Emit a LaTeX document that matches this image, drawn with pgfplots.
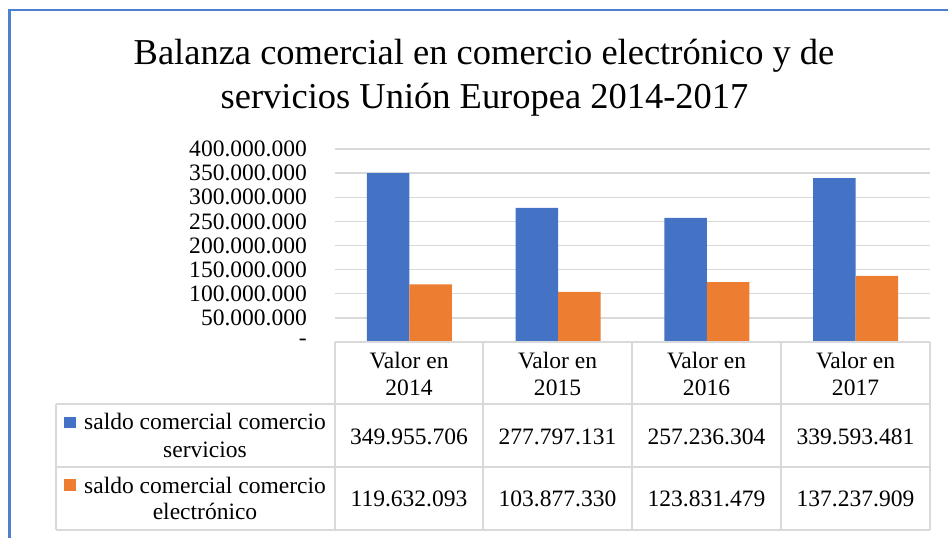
\documentclass[border=0pt]{standalone}
\usepackage{pgfplots}
\pgfplotsset{compat=1.18}
\usepackage{fontspec}
\setmainfont{Liberation Serif}
\definecolor{cblue}{HTML}{4472C4}
\definecolor{corange}{HTML}{ED7D31}
\definecolor{cgrid}{HTML}{D9D9D9}
\definecolor{cframe}{HTML}{4F7FD0}
\newcommand{\tf}{\fontsize{23.6}{27}\selectfont}
\begin{document}
\begin{tikzpicture}[x=1bp,y=1bp]
\useasboundingbox (0,0) rectangle (948,538);
\draw[cframe, line width=2.5bp] (9.5,0) -- (9.5,528) -- (948,528);
\node[anchor=base, inner sep=0pt, font=\fontsize{36.6}{42}\selectfont] at (484,473) {Balanza comercial en comercio electrónico y de};
\node[anchor=base, inner sep=0pt, font=\fontsize{36.6}{42}\selectfont] at (484.5,429.7) {servicios Unión Europea 2014-2017};
\begin{axis}[
  at={(335bp,196bp)}, anchor=south west, scale only axis,
  width=595bp, height=193bp,
  xmin=-0.5, xmax=3.5, ymin=0, ymax=4e8,
  axis line style={draw=none},
  xtick=\empty,
  scaled y ticks=false,
  ytick={0,5e7,1e8,1.5e8,2e8,2.5e8,3e8,3.5e8,4e8},
  yticklabels={-,50.000.000,100.000.000,150.000.000,200.000.000,250.000.000,300.000.000,350.000.000,400.000.000},
  ymajorgrids, grid style={cgrid, line width=1.3bp},
  major tick length=0pt,
  yticklabel style={font=\tf, anchor=east, inner sep=0pt, xshift=-28bp},
]
\addplot[ybar, bar width=42.5bp, bar shift=-21.25bp, fill=cblue, draw=none]
  coordinates {(0,349955706) (1,277797131) (2,257236304) (3,339593481)};
\addplot[ybar, bar width=42.5bp, bar shift=21.25bp, fill=corange, draw=none]
  coordinates {(0,119632093) (1,103877330) (2,123831479) (3,137237909)};
\end{axis}
% data table
\begin{scope}[cgrid, line width=1.3bp]
\draw (335,196) -- (930,196);
\draw (56,134) -- (930,134);
\draw (56,71) -- (930,71);
\draw (56,8) -- (930,8);
\draw (56,134) -- (56,8);
\foreach \x in {335,483,632,781,930} {\draw (\x,196) -- (\x,8);}
\end{scope}
\begin{scope}[every node/.style={anchor=base, inner sep=0pt, font=\tf}]
\foreach \x/\yr in {409/2014,557.5/2015,706.5/2016,855.5/2017} {
  \node at (\x,169) {Valor en};
  \node at (\x,142) {\yr};
}
\node at (205,108) {saldo comercial comercio};
\node at (205,80.7) {servicios};
\node at (205,44.7) {saldo comercial comercio};
\node at (205,18.7) {electrónico};
\node at (409,93.7) {349.955.706};
\node at (557.5,93.7) {277.797.131};
\node at (706.5,93.7) {257.236.304};
\node at (855.5,93.7) {339.593.481};
\node at (409,31.3) {119.632.093};
\node at (557.5,31.3) {103.877.330};
\node at (706.5,31.3) {123.831.479};
\node at (855.5,31.3) {137.237.909};
\end{scope}
\fill[cblue] (64,110) rectangle (76,121);
\fill[corange] (64,47) rectangle (76,59);
\end{tikzpicture}
\end{document}
